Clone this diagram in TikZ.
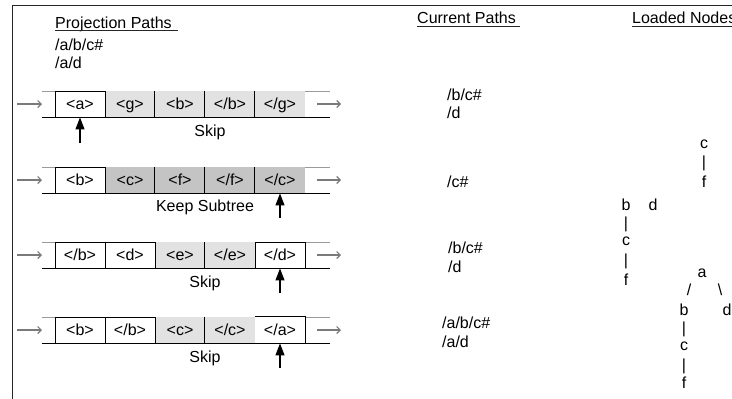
\documentclass[tikz,border=0pt]{standalone}
\usepackage{fontspec}
\setmainfont{Liberation Sans}
\usetikzlibrary{arrows.meta}
\definecolor{lgray}{HTML}{E2E2E2}
\definecolor{dgray}{HTML}{C4C4C4}
\definecolor{tubetop}{HTML}{9A9A9A}
\definecolor{arrgray}{HTML}{7A7A7A}
\tikzset{
  txt/.style={font=\fontsize{16}{19}\selectfont, inner sep=0pt},
  cellw/.style={txt, minimum width=50pt, minimum height=26pt, text height=11.5pt, text depth=1.5pt, draw=black, line width=0.9pt, fill=white},
  celll/.style={cellw, draw=none, fill=lgray},
  celld/.style={cellw, draw=none, fill=dgray},
  cellp/.style={cellw, draw=none, fill=white},
  cellsep/.style={line width=0.9pt, draw=black},
  harrow/.style={draw=arrgray, line width=1.1pt, -{Straight Barb[length=3.5pt,width=7pt]}},
  uparrow/.style={draw=black, line width=1.2pt, -{Triangle[length=12pt,width=9pt]}},
  steplabel/.style={txt, anchor=base},
  pathtxt/.style={txt, anchor=base west},
  treetxt/.style={txt, anchor=base},
  uline/.style={line width=0.9pt, draw=black!85},
}
\begin{document}
\begin{tikzpicture}[x=1pt,y=-1pt]
\useasboundingbox (0,0) rectangle (732,399);
% frame
\draw[line width=1.4pt, draw=black!85] (740,5.7) -- (12.3,5.7) -- (12.3,405);

% headers
\node[pathtxt] (hproj) at (55,28.3) {Projection Paths};
\draw[uline] (55,30.9) -- (178,30.9);
\node[pathtxt] (p1) at (55,50) {/a/b/c\#};
\node[pathtxt] (p2) at (55,68) {/a/d};
\node[pathtxt] (hcur) at (417,23.3) {Current Paths};
\draw[uline] (417,26.1) -- (520,26.1);
\node[pathtxt] (hload) at (632,23.3) {Loaded Nodes};
\draw[uline] (632,26.1) -- (740,26.1);

% tube top lines and arrow coordinates
\foreach \y/\n in {104/1,180/2,255/3,330/4}{
  \draw[draw=tubetop, line width=0.9pt] (42,{\y-13}) -- (330,{\y-13});
  \coordinate (in\n) at (17,\y);
  \coordinate (tl\n) at (42,\y);
  \coordinate (tr\n) at (317,\y);
  \coordinate (out\n) at (341,\y);
}

% row 1
\node[celll] (r1b) at (130,104) {<g>};
\node[celll] (r1c) at (180,104) {<b>};
\node[celll] (r1d) at (230,104) {</b>};
\node[celll] (r1e) at (280,104) {</g>};
\node[cellw] (r1a) at (80,104) {<a>};
\draw[cellsep] (r1c.north west) -- (r1c.south west);
\draw[cellsep] (r1d.north west) -- (r1d.south west);
\draw[cellsep] (r1e.north west) -- (r1e.south west);

% row 2
\node[celld] (r2b) at (130,180) {<c>};
\node[celld] (r2c) at (180,180) {<f>};
\node[celld] (r2d) at (230,180) {</f>};
\node[celld] (r2e) at (280,180) {</c>};
\node[cellw] (r2a) at (80,180) {<b>};
\draw[cellsep] (r2c.north west) -- (r2c.south west);
\draw[cellsep] (r2d.north west) -- (r2d.south west);
\draw[cellsep] (r2e.north west) -- (r2e.south west);

% row 3
\node[celll] (r3c) at (180,255) {<e>};
\node[celll] (r3d) at (230,255) {</e>};
\node[cellw] (r3a) at (80,255) {</b>};
\node[cellw] (r3b) at (130,255) {<d>};
\node[cellw] (r3e) at (280,255) {</d>};
\draw[cellsep] (r3d.north west) -- (r3d.south west);

% row 4
\node[celll] (r4c) at (180,330) {<c>};
\node[celll] (r4d) at (230,330) {</c>};
\node[cellw] (r4a) at (80,330) {<b>};
\node[cellw] (r4b) at (130,330) {</b>};
\node[cellp] (r4e) at (280,330) {</a>};
\draw[cellsep] (r4d.north west) -- (r4d.south west);
\draw[cellsep] (r4e.north west) -- (r4e.north east) -- (r4e.south east);

% tube bottom lines and arrows
\foreach \y/\n in {104/1,180/2,255/3,330/4}{
  \draw[draw=black, line width=0.9pt] (42,{\y+13}) -- (330,{\y+13});
  \draw[harrow] (in\n) -- (tl\n);
  \draw[harrow] (tr\n) -- (out\n);
}

% up arrows
\coordinate (u1) at (80,143);
\coordinate (u2) at (280,218);
\coordinate (u3) at (280,293);
\coordinate (u4) at (280,368);
\draw[uparrow] (u1) -- (r1a.south);
\draw[uparrow] (u2) -- (r2e.south);
\draw[uparrow] (u3) -- (r3e.south);
\draw[uparrow] (u4) -- (r4e.south);

% step labels
\node[steplabel] (s1) at (210,136.5) {Skip};
\node[steplabel] (s2) at (205,211.5) {Keep Subtree};
\node[steplabel] (s3) at (205,287) {Skip};
\node[steplabel] (s4) at (205,362) {Skip};

% current paths
\node[pathtxt] (c1a) at (447,100) {/b/c\#};
\node[pathtxt] (c1b) at (447,118) {/d};
\node[pathtxt] (c2a) at (447,187) {/c\#};
\node[pathtxt] (c3a) at (448,253) {/b/c\#};
\node[pathtxt] (c3b) at (448,272) {/d};
\node[pathtxt] (c4a) at (442,328) {/a/b/c\#};
\node[pathtxt] (c4b) at (442,347) {/a/d};

% loaded nodes, row 1
\node[treetxt] (t1c) at (704,148) {c};
\node[treetxt] (t1l) at (704,167.7) {|};
\node[treetxt] (t1f) at (704,187) {f};
% row 2
\node[treetxt] (t2b) at (626,210) {b};
\node[treetxt] (t2d) at (653,210) {d};
\node[treetxt] (t2l1) at (626,228) {|};
\node[treetxt] (t2c) at (626,245) {c};
\node[treetxt] (t2l2) at (626,265.7) {|};
\node[treetxt] (t2f) at (626,285) {f};
% row 3
\node[treetxt] (t3a) at (702,277) {a};
\node[treetxt] (t3s) at (689,295.7) {/};
\node[treetxt] (t3bs) at (720,295.7) {\textbackslash};
\node[treetxt] (t3b) at (684,315) {b};
\node[treetxt] (t3d) at (727,315) {d};
\node[treetxt] (t3l1) at (684,333) {|};
\node[treetxt] (t3c) at (684,350) {c};
\node[treetxt] (t3l2) at (684,370) {|};
\node[treetxt] (t3f) at (684,388) {f};
\end{tikzpicture}
\end{document}
